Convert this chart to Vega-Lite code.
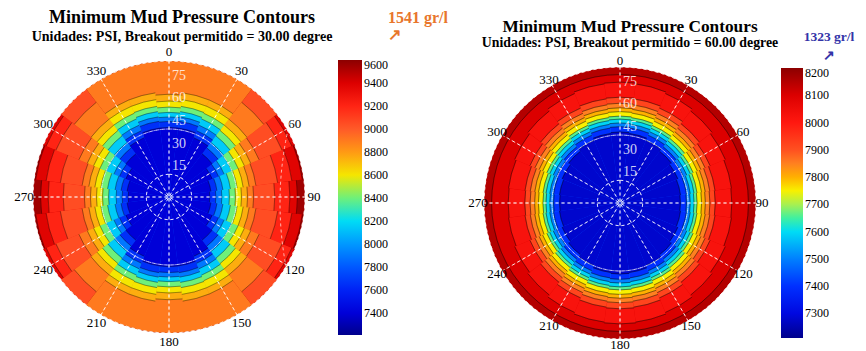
{
"$schema":"https://vega.github.io/schema/vega-lite/v6.json",
"background":"white",
"autosize":{"type":"none"},
"padding":{"left":19,"top":55,"right":847,"bottom":296},
"bounds":"flush",
"spacing":151,
"resolve":{"scale":{"color":"independent","theta":"independent","radius":"independent"},"legend":{"color":"independent"}},
"config":{"view":{"stroke":null}},
"datasets":{
"G":[{"g":15},{"g":30},{"g":45},{"g":60},{"g":75}],
"S":[{"t":0},{"t":30},{"t":60},{"t":90},{"t":120},{"t":150},{"t":180},{"t":210},{"t":240},{"t":270},{"t":300},{"t":330}],
"L":[
{"a":0,"b":360,"r":90,"v":9550},
{"a":52.5,"b":67.5,"r":90,"v":9380},{"a":67.5,"b":82.5,"r":89,"v":9380},{"a":82.5,"b":97.5,"r":85,"v":9380},{"a":97.5,"b":112.5,"r":89,"v":9380},{"a":112.5,"b":127.5,"r":90,"v":9380},{"a":232.5,"b":247.5,"r":90,"v":9380},{"a":247.5,"b":262.5,"r":89,"v":9380},{"a":262.5,"b":277.5,"r":85,"v":9380},{"a":277.5,"b":292.5,"r":89,"v":9380},{"a":292.5,"b":307.5,"r":90,"v":9380},
{"a":52.5,"b":67.5,"r":88,"v":9200},{"a":67.5,"b":82.5,"r":82,"v":9200},{"a":82.5,"b":97.5,"r":80,"v":9200},{"a":97.5,"b":112.5,"r":82,"v":9200},{"a":112.5,"b":127.5,"r":88,"v":9200},{"a":232.5,"b":247.5,"r":88,"v":9200},{"a":247.5,"b":262.5,"r":82,"v":9200},{"a":262.5,"b":277.5,"r":80,"v":9200},{"a":277.5,"b":292.5,"r":82,"v":9200},{"a":292.5,"b":307.5,"r":88,"v":9200},
{"a":37.5,"b":52.5,"r":90,"v":9050},{"a":52.5,"b":67.5,"r":81,"v":9050},{"a":67.5,"b":82.5,"r":72.5,"v":9050},{"a":82.5,"b":97.5,"r":70,"v":9050},{"a":97.5,"b":112.5,"r":72.5,"v":9050},{"a":112.5,"b":127.5,"r":81,"v":9050},{"a":127.5,"b":142.5,"r":90,"v":9050},{"a":217.5,"b":232.5,"r":90,"v":9050},{"a":232.5,"b":247.5,"r":81,"v":9050},{"a":247.5,"b":262.5,"r":72.5,"v":9050},{"a":262.5,"b":277.5,"r":70,"v":9050},{"a":277.5,"b":292.5,"r":72.5,"v":9050},{"a":292.5,"b":307.5,"r":81,"v":9050},{"a":307.5,"b":322.5,"r":90,"v":9050},
{"a":-37.5,"b":37.5,"r":90,"v":8900},{"a":37.5,"b":52.5,"r":79,"v":8900},{"a":52.5,"b":67.5,"r":64.5,"v":8900},{"a":67.5,"b":82.5,"r":58,"v":8900},{"a":82.5,"b":97.5,"r":56,"v":8900},{"a":97.5,"b":112.5,"r":58,"v":8900},{"a":112.5,"b":127.5,"r":64.5,"v":8900},{"a":127.5,"b":142.5,"r":79,"v":8900},{"a":142.5,"b":217.5,"r":90,"v":8900},{"a":217.5,"b":232.5,"r":79,"v":8900},{"a":232.5,"b":247.5,"r":64.5,"v":8900},{"a":247.5,"b":262.5,"r":58,"v":8900},{"a":262.5,"b":277.5,"r":56,"v":8900},{"a":277.5,"b":292.5,"r":58,"v":8900},{"a":292.5,"b":307.5,"r":64.5,"v":8900},{"a":307.5,"b":322.5,"r":79,"v":8900},
{"a":-7.5,"b":7.5,"r":68,"v":8750},{"a":7.5,"b":22.5,"r":69.5,"v":8750},{"a":22.5,"b":37.5,"r":69.5,"v":8750},{"a":37.5,"b":52.5,"r":65,"v":8750},{"a":52.5,"b":67.5,"r":58.5,"v":8750},{"a":67.5,"b":82.5,"r":53.5,"v":8750},{"a":82.5,"b":97.5,"r":52,"v":8750},{"a":97.5,"b":112.5,"r":53.5,"v":8750},{"a":112.5,"b":127.5,"r":58.5,"v":8750},{"a":127.5,"b":142.5,"r":65,"v":8750},{"a":142.5,"b":157.5,"r":69.5,"v":8750},{"a":157.5,"b":172.5,"r":69.5,"v":8750},{"a":172.5,"b":187.5,"r":68,"v":8750},{"a":187.5,"b":202.5,"r":69.5,"v":8750},{"a":202.5,"b":217.5,"r":69.5,"v":8750},{"a":217.5,"b":232.5,"r":65,"v":8750},{"a":232.5,"b":247.5,"r":58.5,"v":8750},{"a":247.5,"b":262.5,"r":53.5,"v":8750},{"a":262.5,"b":277.5,"r":52,"v":8750},{"a":277.5,"b":292.5,"r":53.5,"v":8750},{"a":292.5,"b":307.5,"r":58.5,"v":8750},{"a":307.5,"b":322.5,"r":65,"v":8750},{"a":322.5,"b":337.5,"r":69.5,"v":8750},{"a":337.5,"b":352.5,"r":69.5,"v":8750},
{"a":-7.5,"b":7.5,"r":63.5,"v":8600},{"a":7.5,"b":22.5,"r":65,"v":8600},{"a":22.5,"b":37.5,"r":65,"v":8600},{"a":37.5,"b":52.5,"r":60,"v":8600},{"a":52.5,"b":67.5,"r":54,"v":8600},{"a":67.5,"b":82.5,"r":49.5,"v":8600},{"a":82.5,"b":97.5,"r":48,"v":8600},{"a":97.5,"b":112.5,"r":49.5,"v":8600},{"a":112.5,"b":127.5,"r":54,"v":8600},{"a":127.5,"b":142.5,"r":60,"v":8600},{"a":142.5,"b":157.5,"r":65,"v":8600},{"a":157.5,"b":172.5,"r":65,"v":8600},{"a":172.5,"b":187.5,"r":63.5,"v":8600},{"a":187.5,"b":202.5,"r":65,"v":8600},{"a":202.5,"b":217.5,"r":65,"v":8600},{"a":217.5,"b":232.5,"r":60,"v":8600},{"a":232.5,"b":247.5,"r":54,"v":8600},{"a":247.5,"b":262.5,"r":49.5,"v":8600},{"a":262.5,"b":277.5,"r":48,"v":8600},{"a":277.5,"b":292.5,"r":49.5,"v":8600},{"a":292.5,"b":307.5,"r":54,"v":8600},{"a":307.5,"b":322.5,"r":60,"v":8600},{"a":322.5,"b":337.5,"r":65,"v":8600},{"a":337.5,"b":352.5,"r":65,"v":8600},
{"a":-7.5,"b":7.5,"r":59.5,"v":8400},{"a":7.5,"b":22.5,"r":60.5,"v":8400},{"a":22.5,"b":37.5,"r":60,"v":8400},{"a":37.5,"b":52.5,"r":55.5,"v":8400},{"a":52.5,"b":67.5,"r":49.5,"v":8400},{"a":67.5,"b":82.5,"r":45.5,"v":8400},{"a":82.5,"b":97.5,"r":44,"v":8400},{"a":97.5,"b":112.5,"r":45.5,"v":8400},{"a":112.5,"b":127.5,"r":49.5,"v":8400},{"a":127.5,"b":142.5,"r":55.5,"v":8400},{"a":142.5,"b":157.5,"r":60,"v":8400},{"a":157.5,"b":172.5,"r":60.5,"v":8400},{"a":172.5,"b":187.5,"r":59.5,"v":8400},{"a":187.5,"b":202.5,"r":60.5,"v":8400},{"a":202.5,"b":217.5,"r":60,"v":8400},{"a":217.5,"b":232.5,"r":55.5,"v":8400},{"a":232.5,"b":247.5,"r":49.5,"v":8400},{"a":247.5,"b":262.5,"r":45.5,"v":8400},{"a":262.5,"b":277.5,"r":44,"v":8400},{"a":277.5,"b":292.5,"r":45.5,"v":8400},{"a":292.5,"b":307.5,"r":49.5,"v":8400},{"a":307.5,"b":322.5,"r":55.5,"v":8400},{"a":322.5,"b":337.5,"r":60,"v":8400},{"a":337.5,"b":352.5,"r":60.5,"v":8400},
{"a":-7.5,"b":7.5,"r":56,"v":8150},{"a":7.5,"b":22.5,"r":57,"v":8150},{"a":22.5,"b":37.5,"r":56,"v":8150},{"a":37.5,"b":52.5,"r":51,"v":8150},{"a":52.5,"b":67.5,"r":45,"v":8150},{"a":67.5,"b":82.5,"r":41,"v":8150},{"a":82.5,"b":97.5,"r":40,"v":8150},{"a":97.5,"b":112.5,"r":41,"v":8150},{"a":112.5,"b":127.5,"r":45,"v":8150},{"a":127.5,"b":142.5,"r":51,"v":8150},{"a":142.5,"b":157.5,"r":56,"v":8150},{"a":157.5,"b":172.5,"r":57,"v":8150},{"a":172.5,"b":187.5,"r":56,"v":8150},{"a":187.5,"b":202.5,"r":57,"v":8150},{"a":202.5,"b":217.5,"r":56,"v":8150},{"a":217.5,"b":232.5,"r":51,"v":8150},{"a":232.5,"b":247.5,"r":45,"v":8150},{"a":247.5,"b":262.5,"r":41,"v":8150},{"a":262.5,"b":277.5,"r":40,"v":8150},{"a":277.5,"b":292.5,"r":41,"v":8150},{"a":292.5,"b":307.5,"r":45,"v":8150},{"a":307.5,"b":322.5,"r":51,"v":8150},{"a":322.5,"b":337.5,"r":56,"v":8150},{"a":337.5,"b":352.5,"r":57,"v":8150},
{"a":-7.5,"b":7.5,"r":53,"v":7900},{"a":7.5,"b":22.5,"r":53.5,"v":7900},{"a":22.5,"b":37.5,"r":51.5,"v":7900},{"a":37.5,"b":52.5,"r":45.5,"v":7900},{"a":52.5,"b":67.5,"r":39.5,"v":7900},{"a":67.5,"b":82.5,"r":36,"v":7900},{"a":82.5,"b":97.5,"r":35,"v":7900},{"a":97.5,"b":112.5,"r":36,"v":7900},{"a":112.5,"b":127.5,"r":39.5,"v":7900},{"a":127.5,"b":142.5,"r":45.5,"v":7900},{"a":142.5,"b":157.5,"r":51.5,"v":7900},{"a":157.5,"b":172.5,"r":53.5,"v":7900},{"a":172.5,"b":187.5,"r":53,"v":7900},{"a":187.5,"b":202.5,"r":53.5,"v":7900},{"a":202.5,"b":217.5,"r":51.5,"v":7900},{"a":217.5,"b":232.5,"r":45.5,"v":7900},{"a":232.5,"b":247.5,"r":39.5,"v":7900},{"a":247.5,"b":262.5,"r":36,"v":7900},{"a":262.5,"b":277.5,"r":35,"v":7900},{"a":277.5,"b":292.5,"r":36,"v":7900},{"a":292.5,"b":307.5,"r":39.5,"v":7900},{"a":307.5,"b":322.5,"r":45.5,"v":7900},{"a":322.5,"b":337.5,"r":51.5,"v":7900},{"a":337.5,"b":352.5,"r":53.5,"v":7900},
{"a":-7.5,"b":7.5,"r":50,"v":7650},{"a":7.5,"b":22.5,"r":50.5,"v":7650},{"a":22.5,"b":37.5,"r":47.5,"v":7650},{"a":37.5,"b":52.5,"r":41,"v":7650},{"a":52.5,"b":67.5,"r":35.5,"v":7650},{"a":67.5,"b":82.5,"r":32,"v":7650},{"a":82.5,"b":97.5,"r":31,"v":7650},{"a":97.5,"b":112.5,"r":32,"v":7650},{"a":112.5,"b":127.5,"r":35.5,"v":7650},{"a":127.5,"b":142.5,"r":41,"v":7650},{"a":142.5,"b":157.5,"r":47.5,"v":7650},{"a":157.5,"b":172.5,"r":50.5,"v":7650},{"a":172.5,"b":187.5,"r":50,"v":7650},{"a":187.5,"b":202.5,"r":50.5,"v":7650},{"a":202.5,"b":217.5,"r":47.5,"v":7650},{"a":217.5,"b":232.5,"r":41,"v":7650},{"a":232.5,"b":247.5,"r":35.5,"v":7650},{"a":247.5,"b":262.5,"r":32,"v":7650},{"a":262.5,"b":277.5,"r":31,"v":7650},{"a":277.5,"b":292.5,"r":32,"v":7650},{"a":292.5,"b":307.5,"r":35.5,"v":7650},{"a":307.5,"b":322.5,"r":41,"v":7650},{"a":322.5,"b":337.5,"r":47.5,"v":7650},{"a":337.5,"b":352.5,"r":50.5,"v":7650},
{"a":-7.5,"b":7.5,"r":46,"v":7400},{"a":7.5,"b":22.5,"r":46,"v":7400},{"a":22.5,"b":37.5,"r":42.5,"v":7400},{"a":37.5,"b":52.5,"r":36,"v":7400},{"a":52.5,"b":67.5,"r":31,"v":7400},{"a":67.5,"b":82.5,"r":28,"v":7400},{"a":82.5,"b":97.5,"r":27,"v":7400},{"a":97.5,"b":112.5,"r":28,"v":7400},{"a":112.5,"b":127.5,"r":31,"v":7400},{"a":127.5,"b":142.5,"r":36,"v":7400},{"a":142.5,"b":157.5,"r":42.5,"v":7400},{"a":157.5,"b":172.5,"r":46,"v":7400},{"a":172.5,"b":187.5,"r":46,"v":7400},{"a":187.5,"b":202.5,"r":46,"v":7400},{"a":202.5,"b":217.5,"r":42.5,"v":7400},{"a":217.5,"b":232.5,"r":36,"v":7400},{"a":232.5,"b":247.5,"r":31,"v":7400},{"a":247.5,"b":262.5,"r":28,"v":7400},{"a":262.5,"b":277.5,"r":27,"v":7400},{"a":277.5,"b":292.5,"r":28,"v":7400},{"a":292.5,"b":307.5,"r":31,"v":7400},{"a":307.5,"b":322.5,"r":36,"v":7400},{"a":322.5,"b":337.5,"r":42.5,"v":7400},{"a":337.5,"b":352.5,"r":46,"v":7400}
],
"R":[
{"a":0,"b":360,"r":90,"v":8150},
{"a":0,"b":360,"r":85,"v":8100},
{"a":-7.5,"b":7.5,"r":80,"v":8020},{"a":7.5,"b":22.5,"r":79.5,"v":8020},{"a":22.5,"b":37.5,"r":78.4,"v":8020},{"a":37.5,"b":52.5,"r":76.8,"v":8020},{"a":52.5,"b":67.5,"r":75.4,"v":8020},{"a":67.5,"b":82.5,"r":74.4,"v":8020},{"a":82.5,"b":97.5,"r":74,"v":8020},{"a":97.5,"b":112.5,"r":74.4,"v":8020},{"a":112.5,"b":127.5,"r":75.4,"v":8020},{"a":127.5,"b":142.5,"r":76.8,"v":8020},{"a":142.5,"b":157.5,"r":78.4,"v":8020},{"a":157.5,"b":172.5,"r":79.5,"v":8020},{"a":172.5,"b":187.5,"r":80,"v":8020},{"a":187.5,"b":202.5,"r":79.5,"v":8020},{"a":202.5,"b":217.5,"r":78.4,"v":8020},{"a":217.5,"b":232.5,"r":76.8,"v":8020},{"a":232.5,"b":247.5,"r":75.4,"v":8020},{"a":247.5,"b":262.5,"r":74.4,"v":8020},{"a":262.5,"b":277.5,"r":74,"v":8020},{"a":277.5,"b":292.5,"r":74.4,"v":8020},{"a":292.5,"b":307.5,"r":75.4,"v":8020},{"a":307.5,"b":322.5,"r":76.8,"v":8020},{"a":322.5,"b":337.5,"r":78.4,"v":8020},{"a":337.5,"b":352.5,"r":79.5,"v":8020},
{"a":-7.5,"b":7.5,"r":70,"v":7920},{"a":7.5,"b":22.5,"r":69.5,"v":7920},{"a":22.5,"b":37.5,"r":68,"v":7920},{"a":37.5,"b":52.5,"r":66.2,"v":7920},{"a":52.5,"b":67.5,"r":64.5,"v":7920},{"a":67.5,"b":82.5,"r":63.4,"v":7920},{"a":82.5,"b":97.5,"r":63,"v":7920},{"a":97.5,"b":112.5,"r":63.4,"v":7920},{"a":112.5,"b":127.5,"r":64.5,"v":7920},{"a":127.5,"b":142.5,"r":66.2,"v":7920},{"a":142.5,"b":157.5,"r":68,"v":7920},{"a":157.5,"b":172.5,"r":69.5,"v":7920},{"a":172.5,"b":187.5,"r":70,"v":7920},{"a":187.5,"b":202.5,"r":69.5,"v":7920},{"a":202.5,"b":217.5,"r":68,"v":7920},{"a":217.5,"b":232.5,"r":66.2,"v":7920},{"a":232.5,"b":247.5,"r":64.5,"v":7920},{"a":247.5,"b":262.5,"r":63.4,"v":7920},{"a":262.5,"b":277.5,"r":63,"v":7920},{"a":277.5,"b":292.5,"r":63.4,"v":7920},{"a":292.5,"b":307.5,"r":64.5,"v":7920},{"a":307.5,"b":322.5,"r":66.2,"v":7920},{"a":322.5,"b":337.5,"r":68,"v":7920},{"a":337.5,"b":352.5,"r":69.5,"v":7920},
{"a":-7.5,"b":7.5,"r":66,"v":7850},{"a":7.5,"b":22.5,"r":65.5,"v":7850},{"a":22.5,"b":37.5,"r":64.2,"v":7850},{"a":37.5,"b":52.5,"r":62.5,"v":7850},{"a":52.5,"b":67.5,"r":60.9,"v":7850},{"a":67.5,"b":82.5,"r":59.9,"v":7850},{"a":82.5,"b":97.5,"r":59.5,"v":7850},{"a":97.5,"b":112.5,"r":59.9,"v":7850},{"a":112.5,"b":127.5,"r":60.9,"v":7850},{"a":127.5,"b":142.5,"r":62.5,"v":7850},{"a":142.5,"b":157.5,"r":64.2,"v":7850},{"a":157.5,"b":172.5,"r":65.5,"v":7850},{"a":172.5,"b":187.5,"r":66,"v":7850},{"a":187.5,"b":202.5,"r":65.5,"v":7850},{"a":202.5,"b":217.5,"r":64.2,"v":7850},{"a":217.5,"b":232.5,"r":62.5,"v":7850},{"a":232.5,"b":247.5,"r":60.9,"v":7850},{"a":247.5,"b":262.5,"r":59.9,"v":7850},{"a":262.5,"b":277.5,"r":59.5,"v":7850},{"a":277.5,"b":292.5,"r":59.9,"v":7850},{"a":292.5,"b":307.5,"r":60.9,"v":7850},{"a":307.5,"b":322.5,"r":62.5,"v":7850},{"a":322.5,"b":337.5,"r":64.2,"v":7850},{"a":337.5,"b":352.5,"r":65.5,"v":7850},
{"a":-7.5,"b":7.5,"r":63,"v":7800},{"a":7.5,"b":22.5,"r":62.5,"v":7800},{"a":22.5,"b":37.5,"r":61.2,"v":7800},{"a":37.5,"b":52.5,"r":59.5,"v":7800},{"a":52.5,"b":67.5,"r":57.9,"v":7800},{"a":67.5,"b":82.5,"r":56.9,"v":7800},{"a":82.5,"b":97.5,"r":56.5,"v":7800},{"a":97.5,"b":112.5,"r":56.9,"v":7800},{"a":112.5,"b":127.5,"r":57.9,"v":7800},{"a":127.5,"b":142.5,"r":59.5,"v":7800},{"a":142.5,"b":157.5,"r":61.2,"v":7800},{"a":157.5,"b":172.5,"r":62.5,"v":7800},{"a":172.5,"b":187.5,"r":63,"v":7800},{"a":187.5,"b":202.5,"r":62.5,"v":7800},{"a":202.5,"b":217.5,"r":61.2,"v":7800},{"a":217.5,"b":232.5,"r":59.5,"v":7800},{"a":232.5,"b":247.5,"r":57.9,"v":7800},{"a":247.5,"b":262.5,"r":56.9,"v":7800},{"a":262.5,"b":277.5,"r":56.5,"v":7800},{"a":277.5,"b":292.5,"r":56.9,"v":7800},{"a":292.5,"b":307.5,"r":57.9,"v":7800},{"a":307.5,"b":322.5,"r":59.5,"v":7800},{"a":322.5,"b":337.5,"r":61.2,"v":7800},{"a":337.5,"b":352.5,"r":62.5,"v":7800},
{"a":-7.5,"b":7.5,"r":60.5,"v":7750},{"a":7.5,"b":22.5,"r":60,"v":7750},{"a":22.5,"b":37.5,"r":58.7,"v":7750},{"a":37.5,"b":52.5,"r":57,"v":7750},{"a":52.5,"b":67.5,"r":55.4,"v":7750},{"a":67.5,"b":82.5,"r":54.4,"v":7750},{"a":82.5,"b":97.5,"r":54,"v":7750},{"a":97.5,"b":112.5,"r":54.4,"v":7750},{"a":112.5,"b":127.5,"r":55.4,"v":7750},{"a":127.5,"b":142.5,"r":57,"v":7750},{"a":142.5,"b":157.5,"r":58.7,"v":7750},{"a":157.5,"b":172.5,"r":60,"v":7750},{"a":172.5,"b":187.5,"r":60.5,"v":7750},{"a":187.5,"b":202.5,"r":60,"v":7750},{"a":202.5,"b":217.5,"r":58.7,"v":7750},{"a":217.5,"b":232.5,"r":57,"v":7750},{"a":232.5,"b":247.5,"r":55.4,"v":7750},{"a":247.5,"b":262.5,"r":54.4,"v":7750},{"a":262.5,"b":277.5,"r":54,"v":7750},{"a":277.5,"b":292.5,"r":54.4,"v":7750},{"a":292.5,"b":307.5,"r":55.4,"v":7750},{"a":307.5,"b":322.5,"r":57,"v":7750},{"a":322.5,"b":337.5,"r":58.7,"v":7750},{"a":337.5,"b":352.5,"r":60,"v":7750},
{"a":-7.5,"b":7.5,"r":57.5,"v":7660},{"a":7.5,"b":22.5,"r":57,"v":7660},{"a":22.5,"b":37.5,"r":55.6,"v":7660},{"a":37.5,"b":52.5,"r":54,"v":7660},{"a":52.5,"b":67.5,"r":52.4,"v":7660},{"a":67.5,"b":82.5,"r":51.4,"v":7660},{"a":82.5,"b":97.5,"r":51,"v":7660},{"a":97.5,"b":112.5,"r":51.4,"v":7660},{"a":112.5,"b":127.5,"r":52.4,"v":7660},{"a":127.5,"b":142.5,"r":54,"v":7660},{"a":142.5,"b":157.5,"r":55.6,"v":7660},{"a":157.5,"b":172.5,"r":57,"v":7660},{"a":172.5,"b":187.5,"r":57.5,"v":7660},{"a":187.5,"b":202.5,"r":57,"v":7660},{"a":202.5,"b":217.5,"r":55.6,"v":7660},{"a":217.5,"b":232.5,"r":54,"v":7660},{"a":232.5,"b":247.5,"r":52.4,"v":7660},{"a":247.5,"b":262.5,"r":51.4,"v":7660},{"a":262.5,"b":277.5,"r":51,"v":7660},{"a":277.5,"b":292.5,"r":51.4,"v":7660},{"a":292.5,"b":307.5,"r":52.4,"v":7660},{"a":307.5,"b":322.5,"r":54,"v":7660},{"a":322.5,"b":337.5,"r":55.6,"v":7660},{"a":337.5,"b":352.5,"r":57,"v":7660},
{"a":-7.5,"b":7.5,"r":55.5,"v":7590},{"a":7.5,"b":22.5,"r":55,"v":7590},{"a":22.5,"b":37.5,"r":53.6,"v":7590},{"a":37.5,"b":52.5,"r":51.9,"v":7590},{"a":52.5,"b":67.5,"r":50.4,"v":7590},{"a":67.5,"b":82.5,"r":49.4,"v":7590},{"a":82.5,"b":97.5,"r":49,"v":7590},{"a":97.5,"b":112.5,"r":49.4,"v":7590},{"a":112.5,"b":127.5,"r":50.4,"v":7590},{"a":127.5,"b":142.5,"r":51.9,"v":7590},{"a":142.5,"b":157.5,"r":53.6,"v":7590},{"a":157.5,"b":172.5,"r":55,"v":7590},{"a":172.5,"b":187.5,"r":55.5,"v":7590},{"a":187.5,"b":202.5,"r":55,"v":7590},{"a":202.5,"b":217.5,"r":53.6,"v":7590},{"a":217.5,"b":232.5,"r":51.9,"v":7590},{"a":232.5,"b":247.5,"r":50.4,"v":7590},{"a":247.5,"b":262.5,"r":49.4,"v":7590},{"a":262.5,"b":277.5,"r":49,"v":7590},{"a":277.5,"b":292.5,"r":49.4,"v":7590},{"a":292.5,"b":307.5,"r":50.4,"v":7590},{"a":307.5,"b":322.5,"r":51.9,"v":7590},{"a":322.5,"b":337.5,"r":53.6,"v":7590},{"a":337.5,"b":352.5,"r":55,"v":7590},
{"a":-7.5,"b":7.5,"r":53,"v":7500},{"a":7.5,"b":22.5,"r":52.5,"v":7500},{"a":22.5,"b":37.5,"r":51.1,"v":7500},{"a":37.5,"b":52.5,"r":49.4,"v":7500},{"a":52.5,"b":67.5,"r":47.9,"v":7500},{"a":67.5,"b":82.5,"r":46.9,"v":7500},{"a":82.5,"b":97.5,"r":46.5,"v":7500},{"a":97.5,"b":112.5,"r":46.9,"v":7500},{"a":112.5,"b":127.5,"r":47.9,"v":7500},{"a":127.5,"b":142.5,"r":49.4,"v":7500},{"a":142.5,"b":157.5,"r":51.1,"v":7500},{"a":157.5,"b":172.5,"r":52.5,"v":7500},{"a":172.5,"b":187.5,"r":53,"v":7500},{"a":187.5,"b":202.5,"r":52.5,"v":7500},{"a":202.5,"b":217.5,"r":51.1,"v":7500},{"a":217.5,"b":232.5,"r":49.4,"v":7500},{"a":232.5,"b":247.5,"r":47.9,"v":7500},{"a":247.5,"b":262.5,"r":46.9,"v":7500},{"a":262.5,"b":277.5,"r":46.5,"v":7500},{"a":277.5,"b":292.5,"r":46.9,"v":7500},{"a":292.5,"b":307.5,"r":47.9,"v":7500},{"a":307.5,"b":322.5,"r":49.4,"v":7500},{"a":322.5,"b":337.5,"r":51.1,"v":7500},{"a":337.5,"b":352.5,"r":52.5,"v":7500},
{"a":-7.5,"b":7.5,"r":50.5,"v":7400},{"a":7.5,"b":22.5,"r":50,"v":7400},{"a":22.5,"b":37.5,"r":48.6,"v":7400},{"a":37.5,"b":52.5,"r":46.9,"v":7400},{"a":52.5,"b":67.5,"r":45.4,"v":7400},{"a":67.5,"b":82.5,"r":44.4,"v":7400},{"a":82.5,"b":97.5,"r":44,"v":7400},{"a":97.5,"b":112.5,"r":44.4,"v":7400},{"a":112.5,"b":127.5,"r":45.4,"v":7400},{"a":127.5,"b":142.5,"r":46.9,"v":7400},{"a":142.5,"b":157.5,"r":48.6,"v":7400},{"a":157.5,"b":172.5,"r":50,"v":7400},{"a":172.5,"b":187.5,"r":50.5,"v":7400},{"a":187.5,"b":202.5,"r":50,"v":7400},{"a":202.5,"b":217.5,"r":48.6,"v":7400},{"a":217.5,"b":232.5,"r":46.9,"v":7400},{"a":232.5,"b":247.5,"r":45.4,"v":7400},{"a":247.5,"b":262.5,"r":44.4,"v":7400},{"a":262.5,"b":277.5,"r":44,"v":7400},{"a":277.5,"b":292.5,"r":44.4,"v":7400},{"a":292.5,"b":307.5,"r":45.4,"v":7400},{"a":307.5,"b":322.5,"r":46.9,"v":7400},{"a":322.5,"b":337.5,"r":48.6,"v":7400},{"a":337.5,"b":352.5,"r":50,"v":7400},
{"a":-7.5,"b":7.5,"r":47,"v":7280},{"a":7.5,"b":22.5,"r":46.4,"v":7280},{"a":22.5,"b":37.5,"r":44.9,"v":7280},{"a":37.5,"b":52.5,"r":43.1,"v":7280},{"a":52.5,"b":67.5,"r":41.5,"v":7280},{"a":67.5,"b":82.5,"r":40.4,"v":7280},{"a":82.5,"b":97.5,"r":40,"v":7280},{"a":97.5,"b":112.5,"r":40.4,"v":7280},{"a":112.5,"b":127.5,"r":41.5,"v":7280},{"a":127.5,"b":142.5,"r":43.1,"v":7280},{"a":142.5,"b":157.5,"r":44.9,"v":7280},{"a":157.5,"b":172.5,"r":46.4,"v":7280},{"a":172.5,"b":187.5,"r":47,"v":7280},{"a":187.5,"b":202.5,"r":46.4,"v":7280},{"a":202.5,"b":217.5,"r":44.9,"v":7280},{"a":217.5,"b":232.5,"r":43.1,"v":7280},{"a":232.5,"b":247.5,"r":41.5,"v":7280},{"a":247.5,"b":262.5,"r":40.4,"v":7280},{"a":262.5,"b":277.5,"r":40,"v":7280},{"a":277.5,"b":292.5,"r":40.4,"v":7280},{"a":292.5,"b":307.5,"r":41.5,"v":7280},{"a":307.5,"b":322.5,"r":43.1,"v":7280},{"a":322.5,"b":337.5,"r":44.9,"v":7280},{"a":337.5,"b":352.5,"r":46.4,"v":7280}
]
},
"hconcat":[
{
"width":300,"height":284,
"title":{"text":"Minimum Mud Pressure Contours","subtitle":"Unidades: PSI, Breakout permitido = 30.00 degree","frame":"group","font":"Liberation Serif","fontSize":18,"fontWeight":"bold","color":"black","subtitleFont":"Liberation Serif","subtitleFontSize":14,"subtitleFontWeight":"bold","subtitleColor":"black","subtitlePadding":3,"offset":-189,"anchor":"middle","dx":13},
"layer":[
{"data":{"name":"L"},"mark":{"type":"arc"},
"encoding":{
"theta":{"field":"a","type":"quantitative","stack":null,"scale":{"domain":[0,360],"range":[0,6.283185307179586]}},
"theta2":{"field":"b"},
"radius":{"field":"r","type":"quantitative","scale":{"type":"linear","domain":[0,90],"range":[0,136]}},
"color":{"field":"v","type":"quantitative","scale":{"type":"linear","domain":[7210,7400,7600,7800,8000,8200,8400,8600,8800,9000,9200,9400,9600],"range":["#00008c","#0000d8","#0022f5","#0058ff","#0098ff","#00dcf5","#6ef07a","#f5e600","#ff9a14","#ff5a28","#ff2414","#dc0000","#8c0000"],"interpolate":"rgb"},
"legend":{"type":"gradient","orient":"none","legendX":319,"legendY":-45,"direction":"vertical","padding":0,"gradientLength":275,"gradientThickness":24,"gradientStrokeWidth":0,"values":[7400,7600,7800,8000,8200,8400,8600,8800,9000,9200,9400,9600],"format":"d","labelFont":"Liberation Serif","labelFontSize":12,"labelColor":"black","labelOffset":2,"labelBaseline":"middle","labelOverlap":false,
"title":["1541 gr/l","↗"],"titleOrient":"top","titleAnchor":"end","titleAlign":"left","titlePadding":17,"titleFont":"Liberation Serif","titleFontSize":16,"titleFontWeight":"bold","titleColor":"#e8762c","titleLineHeight":17,"titleLimit":200}}
}},
{"data":{"name":"L"},"transform":[{"filter":"datum.r < 90"}],"mark":{"type":"arc","filled":false,"fillOpacity":0,"stroke":"black","strokeWidth":0.6,"strokeOpacity":0.35},
"encoding":{
"theta":{"field":"a","type":"quantitative","stack":null,"scale":{"domain":[0,360],"range":[0,6.283185307179586]}},
"theta2":{"field":"b"},
"radius":{"field":"r","type":"quantitative","scale":{"type":"linear","domain":[0,90],"range":[0,136]}},
"radius2":{"field":"r"}
}},
{"data":{"name":"G"},"mark":{"type":"arc","filled":false,"fillOpacity":0,"stroke":"white","strokeWidth":0.9,"strokeDash":[3,3],"strokeOpacity":0.75},
"encoding":{
"theta":{"datum":0,"type":"quantitative","scale":{"domain":[0,360],"range":[0,6.283185307179586]}},
"theta2":{"datum":360},
"radius":{"field":"g","type":"quantitative","scale":{"type":"linear","domain":[0,90],"range":[0,136]}}
}},
{"data":{"name":"S"},"mark":{"type":"arc","filled":false,"fillOpacity":0,"stroke":"white","strokeWidth":0.9,"strokeDash":[3,3],"strokeOpacity":0.75},
"encoding":{
"theta":{"field":"t","type":"quantitative","stack":null,"scale":{"domain":[0,360],"range":[0,6.283185307179586]}},
"theta2":{"field":"t"},
"radius":{"datum":90,"type":"quantitative","scale":{"type":"linear","domain":[0,90],"range":[0,136]}}
}},
{"data":{"name":"S"},"mark":{"type":"text","font":"Liberation Serif","fontSize":13,"color":"black"},
"encoding":{
"theta":{"field":"t","type":"quantitative","stack":null,"scale":{"domain":[0,360],"range":[0,6.283185307179586]}},
"radius":{"datum":96,"type":"quantitative","scale":{"type":"linear","domain":[0,90],"range":[0,136]}},
"text":{"field":"t","type":"quantitative","format":"d"}
}},
{"data":{"name":"G"},"mark":{"type":"text","font":"Liberation Serif","fontSize":14,"color":"white","opacity":0.8,"dx":10,"dy":-8},
"encoding":{
"theta":{"datum":0,"type":"quantitative","scale":{"domain":[0,360],"range":[0,6.283185307179586]}},
"radius":{"field":"g","type":"quantitative","scale":{"type":"linear","domain":[0,90],"range":[0,136]}},
"text":{"field":"g","type":"quantitative","format":"d"}
}}
]
},
{
"width":300,"height":296,
"title":{"text":"Minimum Mud Pressure Contours","subtitle":"Unidades: PSI, Breakout permitido = 60.00 degree","frame":"group","font":"Liberation Serif","fontSize":17.3,"fontWeight":"bold","color":"black","subtitleFont":"Liberation Serif","subtitleFontSize":13.8,"subtitleFontWeight":"bold","subtitleColor":"black","subtitlePadding":1,"offset":-189,"anchor":"middle","dx":10},
"layer":[
{"data":{"name":"R"},"mark":{"type":"arc"},
"encoding":{
"theta":{"field":"a","type":"quantitative","stack":null,"scale":{"domain":[0,360],"range":[0,6.283185307179586]}},
"theta2":{"field":"b"},
"radius":{"field":"r","type":"quantitative","scale":{"type":"linear","domain":[0,90],"range":[0,136]}},
"color":{"field":"v","type":"quantitative","scale":{"type":"linear","domain":[7210,7300,7400,7500,7600,7650,7700,7750,7800,7850,7900,8000,8100,8200],"range":["#00008c","#0008e0","#0030ff","#0080ff","#00dcf5","#40f0a0","#a8f050","#f8f000","#ffb000","#ff8020","#ff5020","#ff1810","#dc0000","#8c0000"],"interpolate":"rgb"},
"legend":{"type":"gradient","orient":"none","legendX":311,"legendY":-25,"direction":"vertical","padding":0,"gradientLength":270,"gradientThickness":22,"gradientStrokeWidth":0,"values":[7300,7400,7500,7600,7700,7800,7900,8000,8100,8200],"format":"d","labelFont":"Liberation Serif","labelFontSize":12,"labelColor":"black","labelOffset":2,"labelBaseline":"middle","labelOverlap":false,
"title":["1323 gr/l","↗"],"titleOrient":"top","titleAnchor":"end","titleAlign":"center","titlePadding":5.5,"titleFont":"Liberation Serif","titleFontSize":13.5,"titleFontWeight":"bold","titleColor":"#3434a8","titleLineHeight":19,"titleLimit":200}}
}},
{"data":{"name":"R"},"transform":[{"filter":"datum.r < 90"}],"mark":{"type":"arc","filled":false,"fillOpacity":0,"stroke":"black","strokeWidth":0.6,"strokeOpacity":0.45},
"encoding":{
"theta":{"field":"a","type":"quantitative","stack":null,"scale":{"domain":[0,360],"range":[0,6.283185307179586]}},
"theta2":{"field":"b"},
"radius":{"field":"r","type":"quantitative","scale":{"type":"linear","domain":[0,90],"range":[0,136]}},
"radius2":{"field":"r"}
}},
{"data":{"name":"G"},"mark":{"type":"arc","filled":false,"fillOpacity":0,"stroke":"white","strokeWidth":0.9,"strokeDash":[3,3],"strokeOpacity":0.75},
"encoding":{
"theta":{"datum":0,"type":"quantitative","scale":{"domain":[0,360],"range":[0,6.283185307179586]}},
"theta2":{"datum":360},
"radius":{"field":"g","type":"quantitative","scale":{"type":"linear","domain":[0,90],"range":[0,136]}}
}},
{"data":{"name":"S"},"mark":{"type":"arc","filled":false,"fillOpacity":0,"stroke":"white","strokeWidth":0.9,"strokeDash":[3,3],"strokeOpacity":0.75},
"encoding":{
"theta":{"field":"t","type":"quantitative","stack":null,"scale":{"domain":[0,360],"range":[0,6.283185307179586]}},
"theta2":{"field":"t"},
"radius":{"datum":90,"type":"quantitative","scale":{"type":"linear","domain":[0,90],"range":[0,136]}}
}},
{"data":{"name":"S"},"mark":{"type":"text","font":"Liberation Serif","fontSize":13,"color":"black"},
"encoding":{
"theta":{"field":"t","type":"quantitative","stack":null,"scale":{"domain":[0,360],"range":[0,6.283185307179586]}},
"radius":{"datum":94,"type":"quantitative","scale":{"type":"linear","domain":[0,90],"range":[0,136]}},
"text":{"field":"t","type":"quantitative","format":"d"}
}},
{"data":{"name":"G"},"mark":{"type":"text","font":"Liberation Serif","fontSize":14,"color":"white","opacity":0.8,"dx":10,"dy":-8},
"encoding":{
"theta":{"datum":0,"type":"quantitative","scale":{"domain":[0,360],"range":[0,6.283185307179586]}},
"radius":{"field":"g","type":"quantitative","scale":{"type":"linear","domain":[0,90],"range":[0,136]}},
"text":{"field":"g","type":"quantitative","format":"d"}
}}
]
}
]
}
